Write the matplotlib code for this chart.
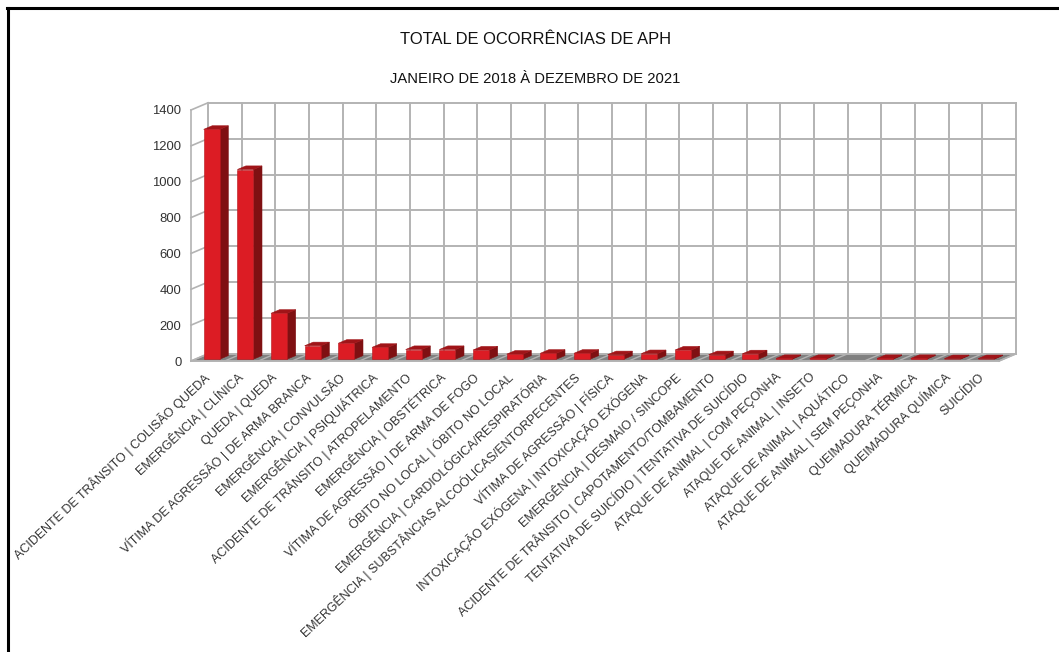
import matplotlib
matplotlib.use("Agg")
import matplotlib.pyplot as plt
from matplotlib.patches import Polygon
from matplotlib.lines import Line2D

plt.rcParams['font.family'] = ['Liberation Sans', 'DejaVu Sans']

categories = [
    "ACIDENTE DE TRÂNSITO | COLISÃO QUEDA", "EMERGÊNCIA | CLÍNICA", "QUEDA | QUEDA",
    "VÍTIMA DE AGRESSÃO | DE ARMA BRANCA", "EMERGÊNCIA | CONVULSÃO", "EMERGÊNCIA | PSIQUIÁTRICA",
    "ACIDENTE DE TRÂNSITO | ATROPELAMENTO", "EMERGÊNCIA | OBSTÉTRICA", "VÍTIMA DE AGRESSÃO | DE ARMA DE FOGO",
    "ÓBITO NO LOCAL | ÓBITO NO LOCAL", "EMERGÊNCIA | CARDIOLÓGICA/RESPIRATÓRIA",
    "EMERGÊNCIA | SUBSTÂNCIAS ALCOÓLICAS/ENTORPECENTES", "VÍTIMA DE AGRESSÃO | FÍSICA",
    "INTOXICAÇÃO EXÓGENA | INTOXICAÇÃO EXÓGENA", "EMERGÊNCIA | DESMAIO / SINCOPE",
    "ACIDENTE DE TRÂNSITO | CAPOTAMENTO/TOMBAMENTO", "TENTATIVA DE SUICÍDIO | TENTATIVA DE SUICÍDIO",
    "ATAQUE DE ANIMAL | COM PEÇONHA", "ATAQUE DE ANIMAL | INSETO", "ATAQUE DE ANIMAL | AQUÁTICO",
    "ATAQUE DE ANIMAL | SEM PEÇONHA", "QUEIMADURA TÉRMICA", "QUEIMADURA QUÍMICA", "SUICÍDIO",
]
values = [1282, 1058, 256, 75, 89, 66, 54, 54, 51, 28, 33, 33, 25, 31, 51, 25, 30, 4, 4, 0, 4, 4, 3, 3]
y_ticks = [0, 200, 400, 600, 800, 1000, 1200, 1400]

W, H = 1059, 652
fig = plt.figure(figsize=(W / 100, H / 100), dpi=100, facecolor='white')
L, R, B, T = 191, 999, 361, 110
ax = fig.add_axes([L / W, 1 - B / H, (R - L) / W, (B - T) / H])
n = len(categories)
ax.set_xlim(0, n)
ax.set_ylim(0, 1400)
for s in ax.spines.values():
    s.set_visible(False)
ax.patch.set_visible(False)

DX = 17 / ((R - L) / n)       # depth shift in category units
DY = 7.2 / ((B - T) / 1400)   # depth shift in value units


def p(x, y, d):
    return (x + d * DX, y + d * DY)


GRID = '#b3b3b3'
# floor
ax.add_patch(Polygon([p(0, 0, 0), p(n, 0, 0), p(n, 0, 1), p(0, 0, 1)], fc='#808080', ec='none', clip_on=False, zorder=1))
for i in range(n + 1):
    ax.plot(*zip(p(i, 0, 0), p(i, 0, 1)), color=GRID, lw=1.0, clip_on=False, zorder=1.5)
# gridlines on back wall and left wall
for v in y_ticks:
    ax.plot(*zip(p(0, v, 1), p(n, v, 1)), color=GRID, lw=1.4, clip_on=False, zorder=2)
    ax.plot(*zip(p(0, v, 0), p(0, v, 1)), color=GRID, lw=1.2, clip_on=False, zorder=2)
for i in range(n + 1):
    ax.plot(*zip(p(i, 0, 1), p(i, 1400, 1)), color=GRID, lw=1.4, clip_on=False, zorder=2)
ax.plot(*zip(p(0, 0, 0), p(0, 1400, 0)), color=GRID, lw=1.2, clip_on=False, zorder=2)
ax.plot(*zip(p(0, 0, 0), p(n, 0, 0)), color=GRID, lw=1.4, clip_on=False, zorder=2.5)
ax.plot(*zip(p(n, 0, 0), p(n, 0, 1)), color=GRID, lw=1.2, clip_on=False, zorder=2.5)

# 3-D bars
BW = 0.48
for i, v in enumerate(values):
    if v <= 0:
        continue
    x0, x1 = i + 0.49 - BW / 2, i + 0.49 + BW / 2
    z = 3 + i * 0.01
    ax.add_patch(Polygon([p(x1, 0, .25), p(x1, 0, .75), p(x1, v, .75), p(x1, v, .25)],
                         fc='#7f1012', ec='#7f1012', lw=0.4, clip_on=False, zorder=z))
    ax.add_patch(Polygon([p(x0, v, .25), p(x1, v, .25), p(x1, v, .75), p(x0, v, .75)],
                         fc='#a01418', ec='#a01418', lw=0.4, clip_on=False, zorder=z))
    ax.add_patch(Polygon([p(x0, 0, .25), p(x1, 0, .25), p(x1, v, .25), p(x0, v, .25)],
                         fc='#dc1c24', ec='#b5161c', lw=0.4, clip_on=False, zorder=z))

ax.set_yticks(y_ticks)
ax.tick_params(axis='y', length=0, pad=7, labelsize=9.4, labelcolor='#333333')
ax.set_xticks([i + 0.5 for i in range(n)])
ax.set_xticklabels(categories, rotation=43.3, ha='right', va='center', rotation_mode='anchor',
                   fontsize=9.0, color='#333333')
ax.tick_params(axis='x', length=0, pad=10.5)

fig.text(536 / W, 1 - 39 / H, "TOTAL DE OCORRÊNCIAS DE APH", ha='center', va='center', fontsize=11.9, color='#111111')
fig.text(535.5 / W, 1 - 79 / H, "JANEIRO DE 2018 À DEZEMBRO DE 2021", ha='center', va='center', fontsize=10.6, color='#111111')

# image frame
fig.add_artist(Line2D([8 / W, 8 / W], [0, 1 - 7.5 / H], color='black', lw=2.2, transform=fig.transFigure))
fig.add_artist(Line2D([6.5 / W, 1], [1 - 7.5 / H, 1 - 7.5 / H], color='black', lw=2.2, transform=fig.transFigure))

fig.savefig('out.png', dpi=100, facecolor='white')
